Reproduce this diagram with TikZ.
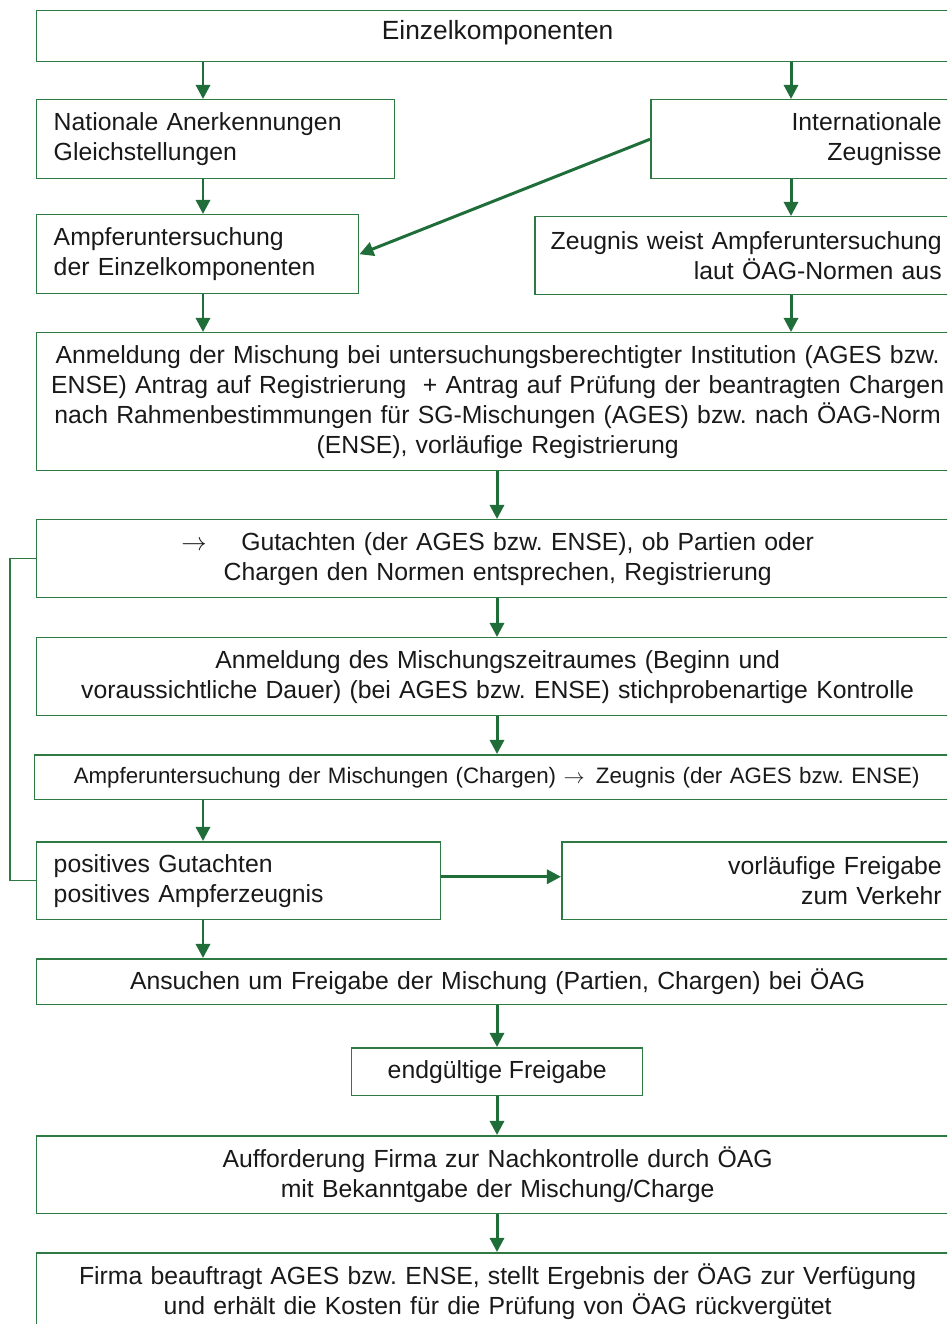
\documentclass[tikz,border=0pt]{standalone}
\usepackage{fontspec}
\setmainfont{Liberation Sans}
\frenchspacing
\usetikzlibrary{arrows.meta, positioning}
\definecolor{boxgreen}{RGB}{46,122,66}
\definecolor{arrgreen}{RGB}{31,110,58}

\begin{document}
\begin{tikzpicture}[x=0.02cm, y=-0.02cm,
    box/.style={draw=boxgreen, line width=0.85pt, anchor=north west, inner xsep=0.34cm, inner ysep=0pt,
      font=\fontsize{14.1}{17.1}\selectfont, text=black!90},
    wide/.style={box, minimum width=18.44cm, text width=18.24cm, inner xsep=0.1cm, align=center},
    arr/.style={draw=arrgreen, line width=1.7pt, -{Triangle[length=8pt,width=8pt]}},
    fb/.style={draw=boxgreen, line width=0.85pt}]
  \useasboundingbox (0,0) rectangle (947,1324);
  \clip (0,0) rectangle (947,1324);

  % Columns of the vertical arrows
  \coordinate (colL) at (203,0);
  \coordinate (colM) at (497,0);
  \coordinate (colR) at (791,0);

  % Boxes
  \node[wide, minimum height=1.02cm, font=\fontsize{15}{17.1}\selectfont] (einz) at (36,10) {Einzelkomponenten\vphantom{\raisebox{-4pt}{p}}};
  \node[box, minimum height=1.58cm, text width=6.48cm, align=left] (nat) at (36,99) {Nationale Anerkennungen\\Gleichstellungen};
  \node[box, minimum height=1.58cm, text width=5.48cm, align=right] (intl) at (650,99) {Internationale\\Zeugnisse};
  \node[box, minimum height=1.58cm, text width=5.76cm, align=left] (ampe) at (36,214) {Ampferuntersuchung\\der Einzelkomponenten};
  \node[box, minimum height=1.56cm, text width=7.8cm, align=right] (zeug) at (534,216)
    {\makebox[7.8cm][r]{Zeugnis weist Ampferuntersuchung}\\laut ÖAG-Normen aus};
  \node[wide, minimum height=2.76cm] (anm) at (36,332)
    {Anmeldung der Mischung bei untersuchungsberechtigter Institution (AGES bzw.\\
     ENSE) Antrag auf Registrierung\ \ + Antrag auf Prüfung der beantragten Chargen\\
     nach Rahmenbestimmungen für SG-Mischungen (AGES) bzw. nach ÖAG-Norm\\
     (ENSE), vorläufige Registrierung};
  \node[wide, minimum height=1.56cm] (gut) at (36,519)
    {$\rightarrow$\hspace{1.4em}Gutachten (der AGES bzw. ENSE), ob Partien oder\\Chargen den Normen entsprechen, Registrierung};
  \node[wide, minimum height=1.56cm] (zeit) at (36,637)
    {Anmeldung des Mischungszeitraumes (Beginn und\\voraussichtliche Dauer) (bei AGES bzw. ENSE) stichprobenartige Kontrolle};
  \node[wide, minimum width=18.48cm, minimum height=0.9cm, font=\fontsize{12.7}{15}\selectfont] (amis) at (34,754)
    {Ampferuntersuchung der Mischungen (Chargen) $\rightarrow$\hspace{0.5em}Zeugnis (der AGES bzw. ENSE)};
  \node[box, minimum height=1.56cm, text width=7.4cm, align=left] (pos) at (36,841) {positives Gutachten\\positives Ampferzeugnis};
  \node[box, minimum height=1.56cm, text width=7.26cm, align=right] (vorl) at (561,841) {vorläufige Freigabe\\zum Verkehr};
  \node[wide, minimum height=0.92cm] (ans) at (36,958)
    {Ansuchen um Freigabe der Mischung (Partien, Chargen) bei ÖAG};
  \node[box, minimum width=5.82cm, minimum height=0.96cm, align=center] (endg) at (351,1047) {endgültige Freigabe};
  \node[wide, minimum height=1.56cm] (auff) at (36,1135)
    {Aufforderung Firma zur Nachkontrolle durch ÖAG\\mit Bekanntgabe der Mischung/Charge};
  \node[wide, minimum height=1.56cm] (firma) at (36,1252)
    {Firma beauftragt AGES bzw. ENSE, stellt Ergebnis der ÖAG zur Verfügung\\und erhält die Kosten für die Prüfung von ÖAG rückvergütet};

  % Arrows
  \draw[arr] (einz.south -| colL) -- (nat.north -| colL);
  \draw[arr] (einz.south -| colR) -- (intl.north -| colR);
  \draw[arr] (nat.south -| colL) -- (ampe.north -| colL);
  \draw[arr] (intl.west) -- (ampe.east);
  \draw[arr] (intl.south -| colR) -- (zeug.north -| colR);
  \draw[arr] (ampe.south -| colL) -- (anm.north -| colL);
  \draw[arr] (zeug.south -| colR) -- (anm.north -| colR);
  \draw[arr] (anm.south -| colM) -- (gut.north -| colM);
  \draw[arr] (gut.south -| colM) -- (zeit.north -| colM);
  \draw[arr] (zeit.south -| colM) -- (amis.north -| colM);
  \draw[arr] (amis.south -| colL) -- (pos.north -| colL);
  \draw[arr] ([yshift=0.08cm]pos.east) -- ([yshift=0.08cm]vorl.west);
  \draw[arr] (pos.south -| colL) -- (ans.north -| colL);
  \draw[arr] (ans.south -| colM) -- (endg.north -| colM);
  \draw[arr] (endg.south -| colM) -- (auff.north -| colM);
  \draw[arr] (auff.south -| colM) -- (firma.north -| colM);

  % Feedback line on the left
  \draw[fb] (gut.west) -- ++(-26,0) |- (pos.west);
\end{tikzpicture}
\end{document}
